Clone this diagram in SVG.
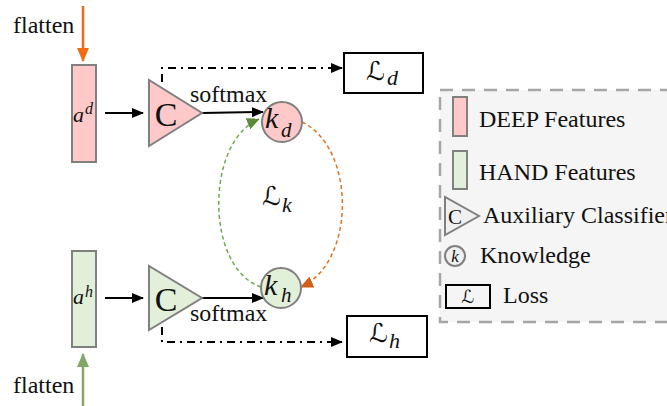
<svg xmlns="http://www.w3.org/2000/svg" width="667" height="406" viewBox="0 0 667 406">
  <style>
    .txt { font-family: "Liberation Serif", "Times New Roman", serif; fill: #111; }
    .it { font-family: "Liberation Serif", "Times New Roman", serif; font-style: italic; fill: #111; }
    .cal { font-family: "DejaVu Serif", "DejaVu Sans", serif; fill: #111; }
    .deep { fill: #ffc9c9; stroke: #808080; stroke-width: 2; }
    .hand { fill: #e2efd9; stroke: #808080; stroke-width: 2; }
    .loss { fill: #fff; stroke: #000; stroke-width: 2; }
    .solid { fill: none; stroke: #000; stroke-width: 2; }
    .dashdot { fill: none; stroke: #000; stroke-width: 2; stroke-dasharray: 8 5 2 5; }
  </style>
  <defs>
    <marker id="arrBlack" markerWidth="12" markerHeight="12" refX="11" refY="6" orient="auto" markerUnits="userSpaceOnUse">
      <path d="M0,1 L12,6 L0,11 Z" fill="#000"/>
    </marker>
    <marker id="arrOrange" markerWidth="14" markerHeight="14" refX="13" refY="7" orient="auto" markerUnits="userSpaceOnUse">
      <path d="M0,1 L14,7 L0,13 Z" fill="#f26b14"/>
    </marker>
    <marker id="arrGreen" markerWidth="14" markerHeight="14" refX="13" refY="7" orient="auto" markerUnits="userSpaceOnUse">
      <path d="M0,1 L14,7 L0,13 Z" fill="#7ea768"/>
    </marker>
    <marker id="arrDkOrange" markerWidth="13" markerHeight="13" refX="12" refY="6.5" orient="auto" markerUnits="userSpaceOnUse">
      <path d="M0,0.5 L13,6.5 L0,12.5 Z" fill="#d0601a"/>
    </marker>
    <marker id="arrDkGreen" markerWidth="13" markerHeight="13" refX="12" refY="6.5" orient="auto" markerUnits="userSpaceOnUse">
      <path d="M0,0.5 L13,6.5 L0,12.5 Z" fill="#5b8a3c"/>
    </marker>
  </defs>

  <!-- legend panel -->
  <g id="legend" font-size="24">
    <rect x="440" y="90" width="240" height="232" fill="#f5f5f5" stroke="#a6a6a6" stroke-width="2.5" stroke-dasharray="13 9"/>
    <rect class="deep" x="453" y="97" width="14" height="39"/>
    <text class="txt" x="479" y="127">DEEP Features</text>
    <rect class="hand" x="453" y="151" width="14" height="38"/>
    <text class="txt" x="479" y="180">HAND Features</text>
    <polygon points="445,197 445,235 479,216" fill="#f0f0f0" stroke="#808080" stroke-width="2"/>
    <text class="txt" x="455" y="224" font-size="21" text-anchor="middle">C</text>
    <text class="txt" x="483" y="223">Auxiliary Classifier</text>
    <circle cx="455" cy="256" r="10" fill="#f0f0f0" stroke="#808080" stroke-width="2"/>
    <text class="it" x="455" y="262" font-size="17" text-anchor="middle">k</text>
    <text class="txt" x="480" y="263">Knowledge</text>
    <rect x="446" y="285" width="44" height="23" fill="none" stroke="#000" stroke-width="2"/>
    <text class="cal" x="468" y="303" font-size="18" text-anchor="middle">ℒ</text>
    <text class="txt" x="503" y="303">Loss</text>
  </g>

  <!-- connectors -->
  <g id="connectors">
    <line x1="83" y1="6" x2="83" y2="61" stroke="#f26b14" stroke-width="2.5" marker-end="url(#arrOrange)"/>
    <line x1="83" y1="406" x2="83" y2="354" stroke="#7ea768" stroke-width="2.5" marker-end="url(#arrGreen)"/>
    <line class="solid" x1="105" y1="113" x2="143" y2="113" marker-end="url(#arrBlack)"/>
    <line class="solid" x1="105" y1="298" x2="143" y2="298" marker-end="url(#arrBlack)"/>
    <line class="solid" x1="202" y1="113" x2="263" y2="112" marker-end="url(#arrBlack)"/>
    <line class="solid" x1="202" y1="298" x2="263" y2="298" marker-end="url(#arrBlack)"/>
    <path class="dashdot" d="M162,82 V68 H342" marker-end="url(#arrBlack)"/>
    <path class="dashdot" d="M162,327 V342 H342" marker-end="url(#arrBlack)"/>
    <path d="M261,287 C205,268 205,142 259,119" fill="none" stroke="#70a850" stroke-width="1.5" stroke-dasharray="4 3" marker-end="url(#arrDkGreen)"/>
    <path d="M302,122 C356,148 356,262 301,287" fill="none" stroke="#e0701f" stroke-width="1.5" stroke-dasharray="4 3" marker-end="url(#arrDkOrange)"/>
  </g>

  <!-- side labels -->
  <g font-size="24">
    <text class="txt" x="13" y="33">flatten</text>
    <text class="txt" x="13" y="393">flatten</text>
    <text class="txt" x="190" y="102">softmax</text>
    <text class="txt" x="190" y="321">softmax</text>
  </g>

  <!-- knowledge loss label -->
  <g id="loss-k">
    <text class="cal" x="262" y="205" font-size="26">ℒ</text>
    <text class="it" x="282" y="212" font-size="22">k</text>
  </g>

  <g id="feat-deep">
    <rect class="deep" x="72" y="65" width="24" height="97"/>
    <text class="it" x="73" y="122" font-size="22">a</text>
    <text class="it" x="85" y="114" font-size="16">d</text>
  </g>
  <g id="feat-hand">
    <rect class="hand" x="72" y="251" width="24" height="96"/>
    <text class="it" x="73" y="304" font-size="22">a</text>
    <text class="it" x="85" y="297" font-size="16">h</text>
  </g>

  <g id="clf-deep">
    <polygon class="deep" points="149,80 149,146 202,113"/>
    <text class="txt" x="166" y="126" font-size="34" text-anchor="middle">C</text>
  </g>
  <g id="clf-hand">
    <polygon class="hand" points="149,266 149,330 202,298"/>
    <text class="txt" x="166" y="311" font-size="34" text-anchor="middle">C</text>
  </g>

  <g id="know-deep">
    <circle class="deep" cx="282" cy="122" r="20"/>
    <text class="it" x="265" y="128" font-size="30">k</text>
    <text class="it" x="281" y="137" font-size="21">d</text>
  </g>
  <g id="know-hand">
    <circle class="hand" cx="281" cy="288" r="20"/>
    <text class="it" x="264" y="295" font-size="30">k</text>
    <text class="it" x="281" y="302" font-size="21">h</text>
  </g>

  <g id="loss-deep">
    <rect class="loss" x="344" y="53" width="79" height="40"/>
    <text class="cal" x="366" y="80" font-size="26">ℒ</text>
    <text class="it" x="387" y="85" font-size="22">d</text>
  </g>
  <g id="loss-hand">
    <rect class="loss" x="347" y="316" width="80" height="41"/>
    <text class="cal" x="369" y="342" font-size="26">ℒ</text>
    <text class="it" x="389" y="348" font-size="22">h</text>
  </g>
</svg>
